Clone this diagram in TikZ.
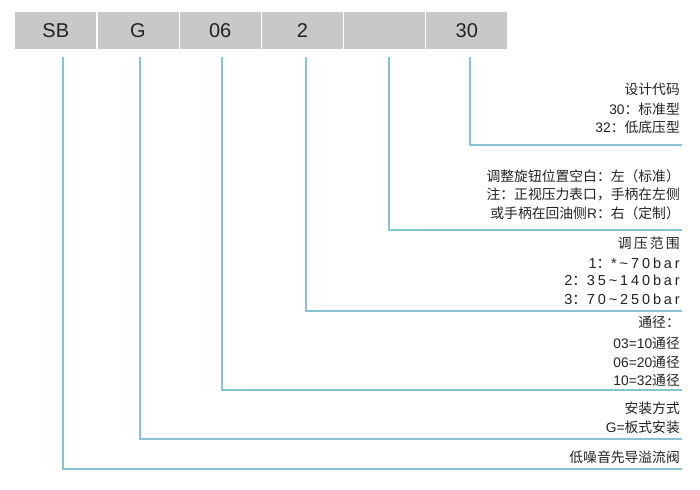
\documentclass[tikz,border=0pt]{standalone}
\usepackage{fontspec}
\setmainfont{Liberation Sans}
\newfontfamily\cjk{Noto Sans CJK SC}
\definecolor{boxgray}{HTML}{C8C8C8}
\definecolor{linkblue}{HTML}{86C3D3}
\definecolor{txt}{HTML}{222222}
\begin{document}
\begin{tikzpicture}[x=1pt,y=-1pt,
  codebox/.style={fill=boxgray,draw=none,minimum width=81pt,minimum height=37pt,inner sep=0pt,font=\fontsize{20}{20}\selectfont,text=txt},
  link/.style={draw=linkblue,line width=1.4pt},
  desc/.style={anchor=base east,inner sep=0pt,font=\fontsize{13.8}{16}\selectfont,text=txt},
  wide/.style={desc,font=\fontsize{14.5}{16}\selectfont\addfontfeature{LetterSpace=20}}]
\useasboundingbox (0,0) rectangle (700,489);
% code boxes
\node[codebox] (b1) at (55.8,30.5) {SB};
\node[codebox] (b2) at (138,30.5) {G};
\node[codebox] (b3) at (220.2,30.5) {06};
\node[codebox] (b4) at (302.4,30.5) {2};
\node[codebox] (b5) at (384.6,30.5) {};
\node[codebox] (b6) at (466.8,30.5) {30};
% connector start / end points
\coordinate (s1) at (63,57);   \coordinate (e1) at (682,469);
\coordinate (s2) at (140,57);  \coordinate (e2) at (682,439);
\coordinate (s3) at (222,57);  \coordinate (e3) at (682,390);
\coordinate (s4) at (306,57);  \coordinate (e4) at (682,311);
\coordinate (s5) at (389,57);  \coordinate (e5) at (682,230);
\coordinate (s6) at (470,57);  \coordinate (e6) at (682,145);
\foreach \i in {1,...,6} \draw[link] (s\i) |- (e\i);
% descriptions
\node[desc] (d6a) at (680,95)  {\cjk 设计代码};
\node[desc] (d6b) at (680,115) {30{\cjk ：标准型}};
\node[desc] (d6c) at (680,133) {32{\cjk ：低底压型}};
\node[desc] (d5a) at (680,181) {\cjk 调整旋钮位置空白：左（标准）};
\node[desc] (d5b) at (680,199) {\cjk 注：正视压力表口，手柄在左侧};
\node[desc] (d5c) at (680,218) {{\cjk 或手柄在回油侧}R{\cjk ：右（定制）}};
\node[wide] (d4a) at (680,248) {{\cjk\fontsize{13.8}{16}\selectfont\addfontfeature{LetterSpace=16} 调压范围}};
\node[wide] (d4b) at (680,268) {1{\cjk ：}*\char"007E 70bar};
\node[wide] (d4c) at (680,285) {2{\cjk ：}35\char"007E 140bar};
\node[wide] (d4d) at (680,304) {3{\cjk ：}70\char"007E 250bar};
\node[desc] (d3a) at (680,327) {\cjk 通径：};
\node[desc] (d3b) at (680,348) {03=10{\cjk 通径}};
\node[desc] (d3c) at (680,367) {06=20{\cjk 通径}};
\node[desc] (d3d) at (680,385) {10=32{\cjk 通径}};
\node[desc] (d2a) at (680,413) {\cjk 安装方式};
\node[desc] (d2b) at (680,432) {G={\cjk 板式安装}};
\node[desc] (d1a) at (680,462) {\cjk 低噪音先导溢流阀};
\end{tikzpicture}
\end{document}
